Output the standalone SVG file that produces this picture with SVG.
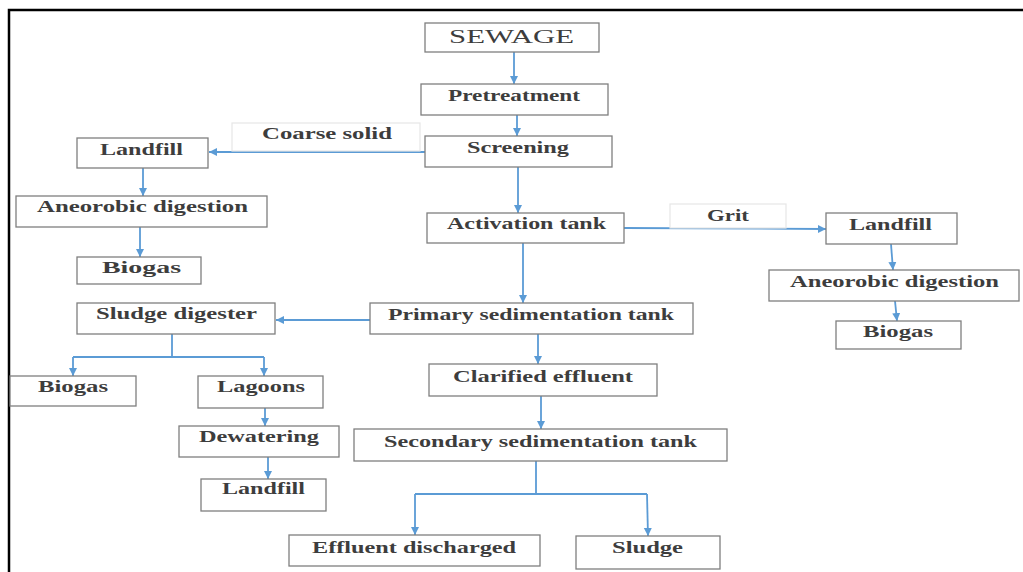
<svg xmlns="http://www.w3.org/2000/svg" width="1023" height="572" viewBox="0 0 1023 572">
<style>
.box{fill:#fff;stroke:#7f7f7f;stroke-width:1.3}
.lbl{fill:#fff;stroke:#e6e6e6;stroke-width:1.2}
.t{font-family:"Liberation Serif","Times New Roman",serif;font-weight:bold;font-size:16px;fill:#3d3d3d}
.c{fill:none;stroke:#5b9bd5;stroke-width:1.8}
.a{fill:none;stroke:#5b9bd5;stroke-width:1.8;marker-end:url(#ah)}
</style>
<defs>
<marker id="ah" markerUnits="userSpaceOnUse" markerWidth="10" markerHeight="10" refX="8" refY="5" orient="auto">
<path d="M0,1 L8,5 L0,9 Z" fill="#5b9bd5"/>
</marker>
</defs>
<rect x="0" y="0" width="1023" height="572" fill="#fff"/>
<path d="M9,572 V10 H1023" fill="none" stroke="#000" stroke-width="2.5"/>

<g id="connectors">
<line class="a" x1="514" y1="52" x2="514" y2="84"/>
<line class="a" x1="517" y1="115" x2="517" y2="136"/>
<line class="a" x1="425" y1="152" x2="209" y2="152"/>
<line class="a" x1="143" y1="168" x2="143" y2="196"/>
<line class="a" x1="140" y1="227" x2="140" y2="257"/>
<line class="a" x1="518" y1="167" x2="518" y2="213"/>
<line class="a" x1="624" y1="228" x2="826" y2="229"/>
<line class="a" x1="891" y1="244" x2="893" y2="270"/>
<line class="a" x1="895" y1="301" x2="897" y2="321"/>
<line class="a" x1="523" y1="243" x2="523" y2="303"/>
<line class="a" x1="370" y1="320" x2="276" y2="320"/>
<path class="c" d="M172,334 V357 M73,357 H264"/>
<line class="a" x1="73" y1="357" x2="73" y2="376"/>
<line class="a" x1="264" y1="357" x2="264" y2="376"/>
<line class="a" x1="265" y1="408" x2="265" y2="426"/>
<line class="a" x1="268" y1="457" x2="268" y2="479"/>
<line class="a" x1="538" y1="334" x2="538" y2="364"/>
<line class="a" x1="541" y1="396" x2="541" y2="429"/>
<path class="c" d="M536,461 V494 M415,494 H647"/>
<line class="a" x1="415" y1="494" x2="415" y2="535"/>
<line class="a" x1="647" y1="494" x2="648" y2="536"/>
</g>

<g id="coarse-solid"><rect class="lbl" x="232" y="123" width="188" height="28"/><text class="t" x="262" y="139" textLength="130" lengthAdjust="spacingAndGlyphs">Coarse solid</text></g>
<g id="grit"><rect class="lbl" x="670" y="204" width="116" height="24"/><text class="t" x="707" y="221" textLength="42" lengthAdjust="spacingAndGlyphs">Grit</text></g>

<g id="sewage"><rect class="box" x="425" y="23" width="174" height="29"/><text class="t" x="449" y="43" font-size="18" font-weight="normal" textLength="125" lengthAdjust="spacingAndGlyphs" style="font-weight:normal;font-size:18px">SEWAGE</text></g>
<g id="pretreatment"><rect class="box" x="421" y="84" width="187" height="31"/><text class="t" x="448" y="101" textLength="132" lengthAdjust="spacingAndGlyphs">Pretreatment</text></g>
<g id="screening"><rect class="box" x="425" y="136" width="187" height="31"/><text class="t" x="467" y="153" textLength="102" lengthAdjust="spacingAndGlyphs">Screening</text></g>
<g id="landfill-1"><rect class="box" x="77" y="138" width="131" height="30"/><text class="t" x="100" y="155" textLength="83" lengthAdjust="spacingAndGlyphs">Landfill</text></g>
<g id="anaerobic-1"><rect class="box" x="16" y="196" width="251" height="31"/><text class="t" x="37" y="212" textLength="211" lengthAdjust="spacingAndGlyphs">Aneorobic digestion</text></g>
<g id="biogas-1"><rect class="box" x="77" y="257" width="124" height="27"/><text class="t" x="102" y="273" textLength="79" lengthAdjust="spacingAndGlyphs">Biogas</text></g>
<g id="activation"><rect class="box" x="427" y="213" width="197" height="30"/><text class="t" x="447" y="229" textLength="159" lengthAdjust="spacingAndGlyphs">Activation tank</text></g>
<g id="landfill-2"><rect class="box" x="826" y="213" width="131" height="31"/><text class="t" x="849" y="230" textLength="83" lengthAdjust="spacingAndGlyphs">Landfill</text></g>
<g id="anaerobic-2"><rect class="box" x="769" y="270" width="250" height="31"/><text class="t" x="790" y="287" textLength="209" lengthAdjust="spacingAndGlyphs">Aneorobic digestion</text></g>
<g id="biogas-2"><rect class="box" x="836" y="321" width="125" height="28"/><text class="t" x="863" y="337" textLength="70" lengthAdjust="spacingAndGlyphs">Biogas</text></g>
<g id="primary"><rect class="box" x="370" y="303" width="323" height="31"/><text class="t" x="388" y="320" textLength="286" lengthAdjust="spacingAndGlyphs">Primary sedimentation tank</text></g>
<g id="sludge-digester"><rect class="box" x="77" y="303" width="198" height="31"/><text class="t" x="96" y="319" textLength="161" lengthAdjust="spacingAndGlyphs">Sludge digester</text></g>
<g id="biogas-3"><rect class="box" x="10" y="376" width="126" height="30"/><text class="t" x="38" y="392" textLength="70" lengthAdjust="spacingAndGlyphs">Biogas</text></g>
<g id="lagoons"><rect class="box" x="198" y="376" width="125" height="32"/><text class="t" x="217" y="392" textLength="88" lengthAdjust="spacingAndGlyphs">Lagoons</text></g>
<g id="dewatering"><rect class="box" x="179" y="426" width="160" height="31"/><text class="t" x="199" y="442" textLength="120" lengthAdjust="spacingAndGlyphs">Dewatering</text></g>
<g id="landfill-3"><rect class="box" x="201" y="479" width="125" height="32"/><text class="t" x="222" y="494" textLength="83" lengthAdjust="spacingAndGlyphs">Landfill</text></g>
<g id="clarified"><rect class="box" x="429" y="364" width="228" height="32"/><text class="t" x="453" y="382" textLength="180" lengthAdjust="spacingAndGlyphs">Clarified effluent</text></g>
<g id="secondary"><rect class="box" x="354" y="429" width="373" height="32"/><text class="t" x="384" y="447" textLength="313" lengthAdjust="spacingAndGlyphs">Secondary sedimentation tank</text></g>
<g id="effluent"><rect class="box" x="289" y="535" width="251" height="31"/><text class="t" x="312" y="553" textLength="204" lengthAdjust="spacingAndGlyphs">Effluent discharged</text></g>
<g id="sludge"><rect class="box" x="576" y="536" width="144" height="33"/><text class="t" x="612" y="553" textLength="71" lengthAdjust="spacingAndGlyphs">Sludge</text></g>
</svg>
